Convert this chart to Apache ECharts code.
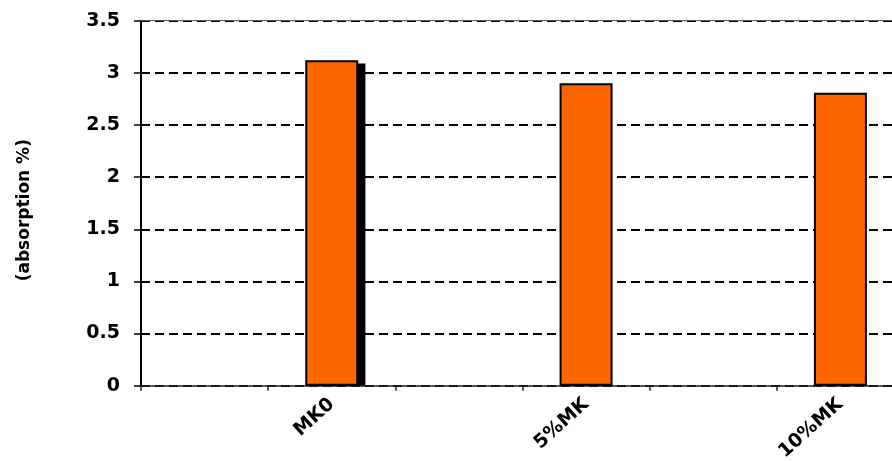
<!DOCTYPE html>
<html>
<head>
<meta charset="utf-8">
<script src="https://cdn.jsdelivr.net/npm/echarts@6/dist/echarts.min.js"></script>
<style>
html,body{margin:0;padding:0;background:#fff;overflow:hidden;width:892px;height:461px;}
#chart{width:904px;height:461px;}
</style>
</head>
<body>
<div id="chart"></div>
<script>
const categories = ['', 'MK0', '', '5%MK', '', '10%MK'];
const absorption = [null, 3.12, null, 2.90, null, 2.81];
const shadowValues = [null, 3.09, null, null, null, null];
const yTicks = [0, 0.5, 1, 1.5, 2, 2.5, 3, 3.5];
const yTitle = '(absorption %)';

const chart = echarts.init(document.getElementById('chart'));
const font = '"DejaVu Sans", sans-serif';
chart.setOption({
  animation: false,
  grid: { left: 141, top: 20.7, right: 0, bottom: 75.3, outerBoundsMode: 'none', containLabel: false },
  xAxis: [{
    type: 'category',
    data: categories,
    position: 'bottom',
    axisLine: { lineStyle: { color: '#222', width: 1.5 } },
    axisTick: { show: true, length: 5, alignWithLabel: false, lineStyle: { color: '#222', width: 1.5 } },
    axisLabel: { rotate: 42, margin: 16, color: '#000', fontFamily: font, fontWeight: 'bold', fontSize: 19, interval: 0 },
    splitLine: { show: false }
  }, {
    type: 'category',
    data: categories,
    position: 'top',
    axisLine: { lineStyle: { color: '#555', width: 1 } },
    axisTick: { show: false },
    axisLabel: { show: false }
  }],
  yAxis: {
    type: 'value',
    min: yTicks[0],
    max: yTicks[yTicks.length - 1],
    interval: 0.5,
    name: yTitle,
    nameLocation: 'middle',
    nameRotate: 90,
    nameGap: 108,
    nameTextStyle: { color: '#000', fontFamily: font, fontWeight: 'bold', fontSize: 17, padding: [0, 14, 0, 0] },
    axisLine: { show: true, lineStyle: { color: '#000', width: 2 } },
    axisTick: { show: true, inside: false, length: 7, lineStyle: { color: '#000', width: 1.5 } },
    axisLabel: { margin: 21, color: '#000', fontFamily: font, fontWeight: 'bold', fontSize: 19 },
    splitLine: { show: true, lineStyle: { color: '#000', width: 2, type: [9, 5] } }
  },
  series: [{
    type: 'bar',
    xAxisIndex: 0,
    z: 3,
    data: absorption,
    barWidth: 53,
    itemStyle: { color: '#FF6600', borderColor: '#000', borderWidth: 2 }
  }, {
    type: 'bar',
    xAxisIndex: 1,
    z: 2,
    data: [],
    barWidth: 53,
    barGap: '-73%'
  }, {
    type: 'bar',
    xAxisIndex: 1,
    z: 2,
    data: shadowValues,
    barWidth: 53,
    barGap: '-73%',
    itemStyle: { color: '#000' }
  }]
});
</script>
</body>
</html>
